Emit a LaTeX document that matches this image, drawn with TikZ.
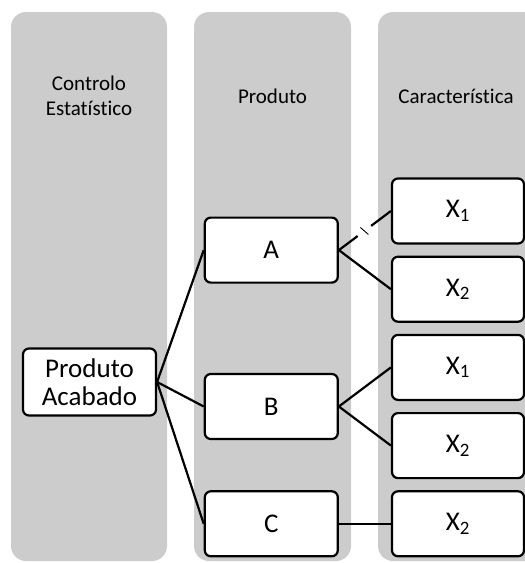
\documentclass[tikz,border=0pt]{standalone}
\usepackage{fontspec}
\setmainfont{Carlito}[Ligatures=NoCommon]
\usetikzlibrary{positioning, calc}

\newcommand{\itemfont}{\fontsize{27}{28}\selectfont}
\newcommand{\headfont}{\fontsize{21}{25}\selectfont}

\begin{document}
\begin{tikzpicture}[
  x=1pt, y=-1pt,
  node distance=11pt and 52pt,
  colbg/.style={fill=black!20, rounded corners=15pt},
  headtext/.style={align=center, font=\headfont, text=black},
  itembox/.style={rectangle, draw=black, line width=2.2pt, fill=white,
                  rounded corners=6pt, minimum width=132pt, minimum height=65pt,
                  align=center, inner sep=3pt, font=\itemfont},
  link/.style={line width=2.2pt, draw=black}
]
\clip (0,0) rectangle (525,563);
% columns
\fill[colbg] (11,12) rectangle (167,561);
\fill[colbg] (194,12) rectangle (351,561);
\fill[colbg] (378,12) rectangle (540,561);
\node[headtext] (hcontrol) at (89,96) {Controlo\\Estatístico};
\node[headtext] (hproduto) at (272.5,96) {Produto};
\node[headtext] (hcarac) at (456,96) {Característica};

% caracteristicas
\node[itembox] (x1) at (458,211) {X\textsubscript{1}};
\node[itembox, below=of x1] (x2) {X\textsubscript{2}};
\node[itembox, below=of x2] (x3) {X\textsubscript{1}};
\node[itembox, below=of x3] (x4) {X\textsubscript{2}};
\node[itembox, below=of x4] (x5) {X\textsubscript{2}};

% produtos
\node[itembox, minimum width=133pt, left=of $(x1.west)!0.5!(x2.west)$] (a) {A};
\node[itembox, minimum width=133pt, left=of $(x3.west)!0.5!(x4.west)$] (b) {B};
\node[itembox, minimum width=133pt, left=of x5] (c) {C};

\node[itembox, minimum width=133pt, minimum height=67pt] (pa) at (89.5,382) {Produto\\Acabado};

\draw[link] (pa.east) -- (a.west);
\draw[link] (pa.east) -- (b.west);
\draw[link] (pa.east) -- (c.west);

% ligacao interrompida
\path (a.east) -- (x1.west)
  coordinate[pos=0.36] (gapa) coordinate[pos=0.49] (gapm) coordinate[pos=0.62] (gapb);
\draw[link] (a.east) -- (gapa);
\draw[link] (gapb) -- (x1.west);
\draw[line width=0.9pt] ($(gapm)+(-4,-3.5)$) -- ($(gapm)+(4,3.5)$);
\draw[link] (a.east) -- (x2.west);

\draw[link] (b.east) -- (x3.west);
\draw[link] (b.east) -- (x4.west);
\draw[link] (c.east) -- (x5.west);
\end{tikzpicture}
\end{document}
